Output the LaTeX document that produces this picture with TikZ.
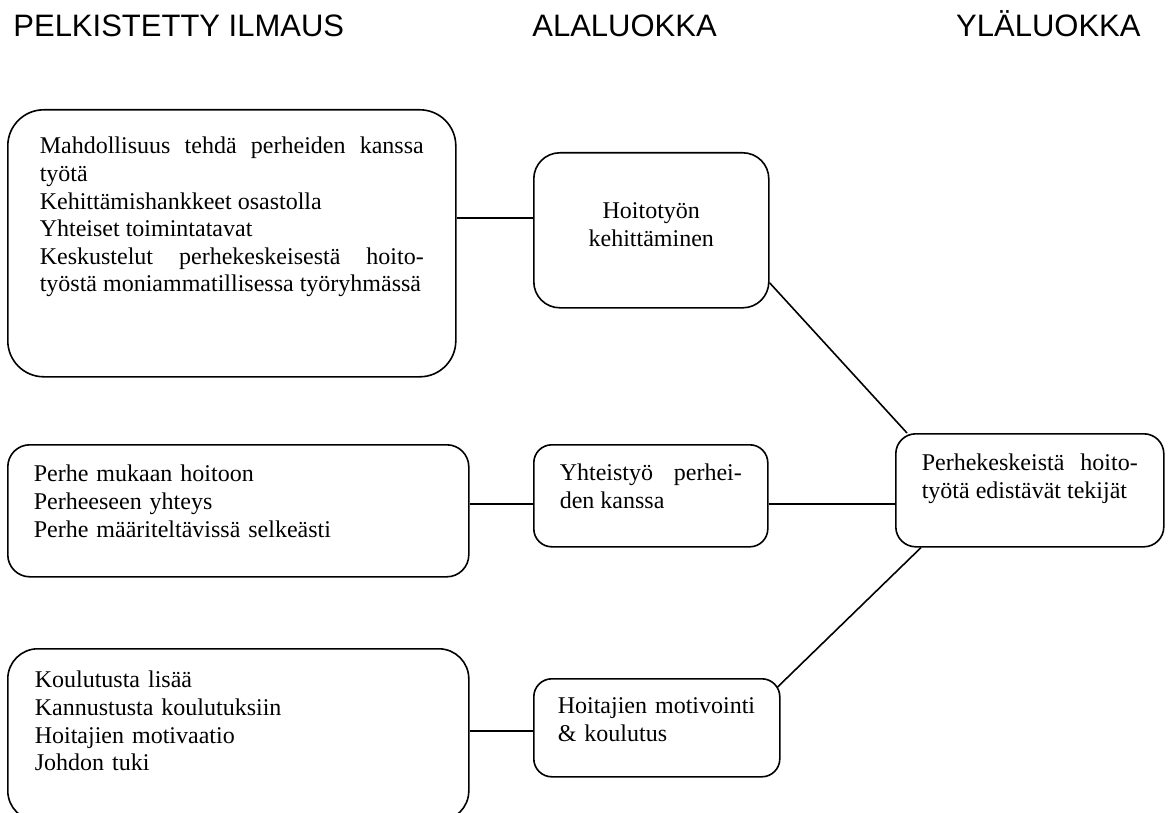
\documentclass[tikz,border=0pt]{standalone}
\usepackage{fontspec}
\setmainfont{Liberation Serif}
\newfontfamily\headfont{Liberation Sans}
\hyphenpenalty=10000

\begin{document}
\begin{tikzpicture}[
  x=0.5pt, y=-0.5pt,
  box/.style={rectangle, draw, line width=0.8pt, anchor=north west, inner ysep=0pt, align=left, font=\fontsize{12}{13.8}\selectfont},
  head/.style={inner sep=0pt, font=\headfont\fontsize{15.5}{18}\selectfont},
  wire/.style={line width=0.8pt}
]
\useasboundingbox (0,0) rectangle (1168,813);

% Column headings
\node[head, anchor=base west] (pelk) at (13,37) {PELKISTETTY ILMAUS};
\node[head, anchor=base west] (ala) at (532,37) {ALALUOKKA};
\node[head, anchor=base east] (yla) at (1141,37) {YLÄLUOKKA};

% Reduced expressions
\node[box, align=justify, rounded corners=18pt, inner xsep=16pt, text width=192pt, text height=22pt, text depth=111.5pt] (kehi) at (7,109) {Mahdollisuus tehdä perheiden kanssa\linebreak työtä\\Kehittämishankkeet osastolla\\Yhteiset toimintatavat\\Keskustelut perhekeskeisestä hoito-\linebreak työstä moniammatillisessa työryhmässä};
\node[box, rounded corners=11pt, inner xsep=13pt, text width=204.5pt, text height=18.5pt, text depth=47.5pt] (perhe) at (7,444) {Perhe mukaan hoitoon\\Perheeseen yhteys\\Perhe määriteltävissä selkeästi};
\node[box, rounded corners=15pt, inner xsep=13.5pt, text width=203.5pt, text height=19.5pt, text depth=66.5pt] (koulu) at (7,648) {Koulutusta lisää\\Kannustusta koulutuksiin\\Hoitajien motivaatio\\Johdon tuki};

% Subcategories
\node[box, align=center, rounded corners=13pt, inner xsep=0pt, text width=117.5pt, text height=33pt, text depth=44.5pt] (hoito) at (533,152) {Hoitotyön\hspace*{7pt}\\kehittäminen};
\node[box, align=justify, rounded corners=9pt, inner xsep=13pt, text width=91pt, text height=18pt, text depth=33pt] (yhteis) at (533,444) {Yhteistyö perhei-\linebreak den kanssa};
\node[box, rounded corners=9pt, inner xsep=12pt, text width=99pt, text height=17.5pt, text depth=31.5pt] (motiv) at (533,678) {Hoitajien motivointi\\\& koulutus};

% Main category
\node[box, align=justify, rounded corners=10pt, inner xsep=13pt, text width=108pt, text height=18.5pt, text depth=38pt] (tekijat) at (895,433) {Perhekeskeistä hoito-\linebreak työtä edistävät tekijät};

% Connections
\coordinate (hoitoIn) at ([yshift=6.25pt]hoito.west);
\coordinate (yhteisIn) at ([yshift=-4pt]yhteis.west);
\coordinate (yhteisOut) at ([yshift=-4pt]yhteis.east);
\coordinate (motivIn) at ([yshift=-1.5pt]motiv.west);
\draw[wire] (hoitoIn -| kehi.east) -- (hoitoIn);
\draw[wire] (yhteisIn -| perhe.east) -- (yhteisIn);
\draw[wire] (motivIn -| koulu.east) -- (motivIn);
\draw[wire] ([yshift=-26.25pt]hoito.east) -- ([xshift=6pt]tekijat.north west);
\draw[wire] (yhteisOut) -- (yhteisOut -| tekijat.west);
\draw[wire] ([xshift=-1.5pt,yshift=-4.5pt]motiv.north east) -- ([xshift=13pt]tekijat.south west);

\end{tikzpicture}
\end{document}
